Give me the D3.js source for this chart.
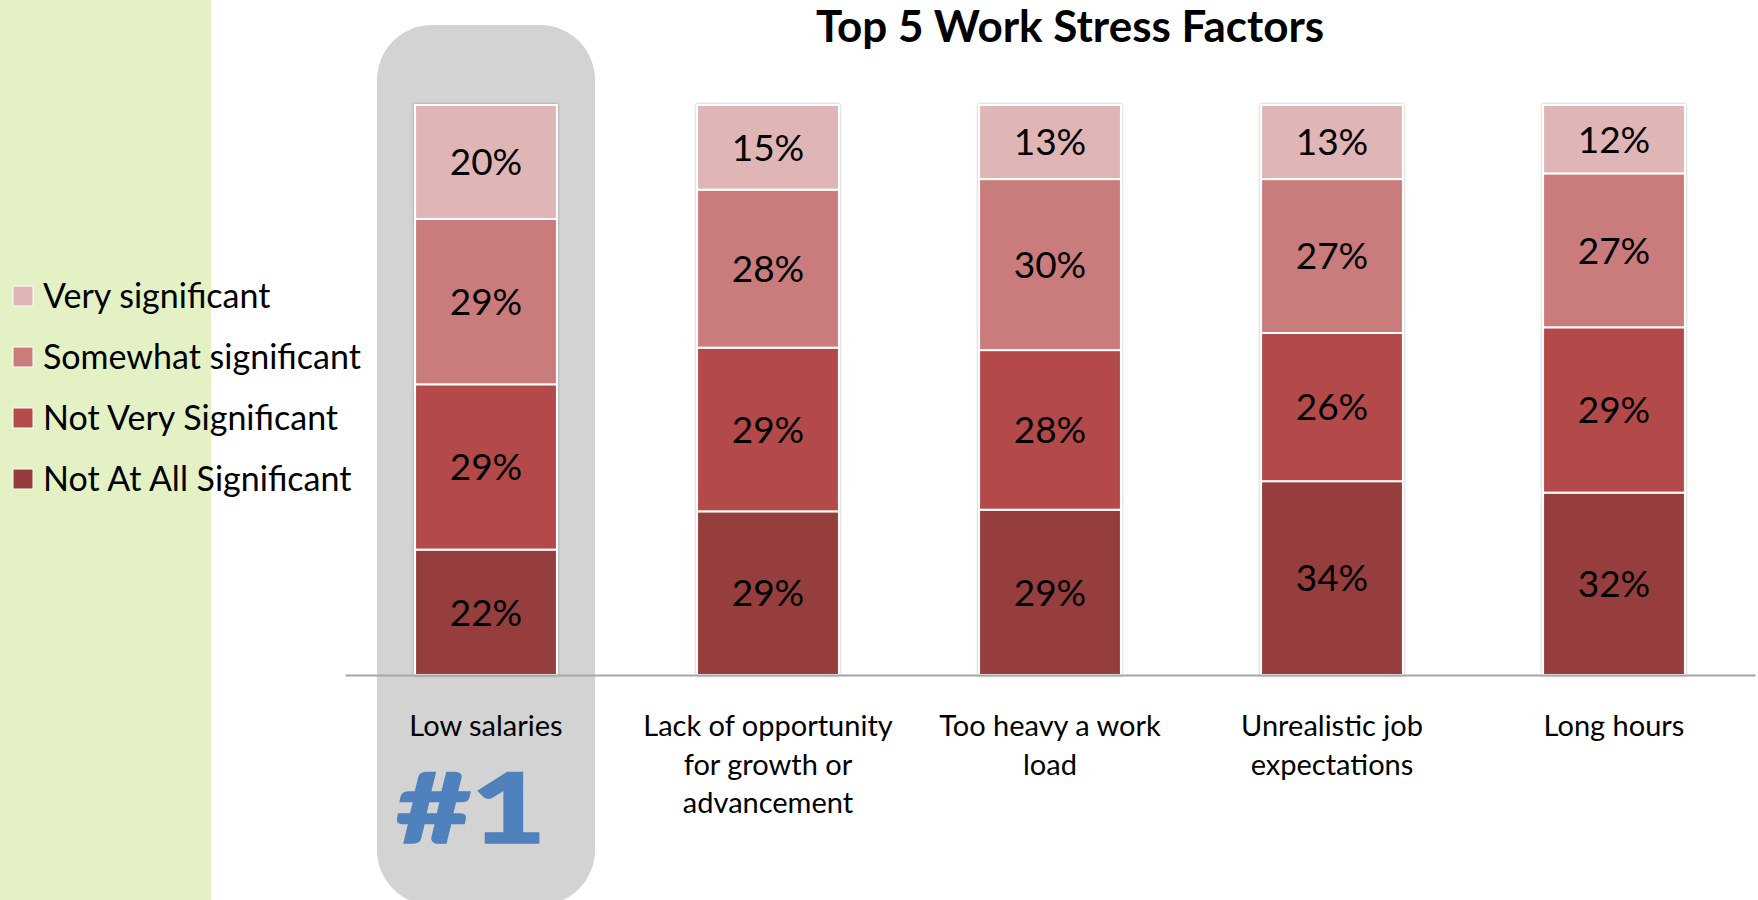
<!DOCTYPE html>
<html>
<head>
<meta charset="utf-8">
<script src="https://cdn.jsdelivr.net/npm/d3@7"></script>
<style>
  html, body { margin: 0; padding: 0; background: #ffffff; }
  svg { display: block; }
  text { font-family: Lato, "Open Sans", sans-serif; }
</style>
</head>
<body>
<svg id="chart" width="1758" height="900"></svg>
<script>
// Survey categories (x axis) and their wrapped tick labels
const categories = ["Low salaries", "Lack of opportunity for growth or advancement", "Too heavy a work load", "Unrealistic job expectations", "Long hours"];
const tickLines = [
  ["Low salaries"],
  ["Lack of opportunity", "for growth or", "advancement"],
  ["Too heavy a work", "load"],
  ["Unrealistic job", "expectations"],
  ["Long hours"]
];

// Stack order, bottom to top
const seriesNames = ["Not At All Significant", "Not Very Significant", "Somewhat significant", "Very significant"];
const notAtAll   = [22, 29, 29, 34, 32];
const notVery    = [29, 29, 28, 26, 29];
const somewhat   = [29, 28, 30, 27, 27];
const very       = [20, 15, 13, 13, 12];
const seriesColors = ["#963c3c", "#b44a49", "#ca7c7c", "#e0b5b5"];

const title = "Top 5 Work Stress Factors";
const rankLabel = "#1";

const svg = d3.select("#chart");
const W = 1758, H = 900;

// Side panel and highlight behind the top-ranked category
svg.append("rect").attr("x", 0).attr("y", 0).attr("width", 211).attr("height", H).attr("fill", "#e3f1c5");

const seriesValues = [notAtAll, notVery, somewhat, very];
const rows = categories.map((c, i) => {
  const r = { category: c };
  seriesNames.forEach((s, k) => r[s] = seriesValues[k][i]);
  return r;
});

const stack = d3.stack().keys(seriesNames).offset(d3.stackOffsetExpand);
const stacked = stack(rows);

const x = d3.scaleBand().domain(categories).range([345, 1755]).paddingInner(0.497).paddingOuter(0.2485);
const y = d3.scaleLinear().domain([0, 1]).range([675, 105]);

const highlightCat = categories[0];
const hx = x(highlightCat) + x.bandwidth() / 2;
svg.append("rect")
  .attr("x", hx - 109).attr("y", 25)
  .attr("width", 218).attr("height", 880)
  .attr("rx", 55).attr("ry", 55)
  .attr("fill", "#d3d3d3");

// Soft edge shadow around the columns
const defs = svg.append("defs");
const f = defs.append("filter").attr("id", "edge").attr("x", "-10%").attr("y", "-5%").attr("width", "120%").attr("height", "110%");
f.append("feDropShadow").attr("dx", 0).attr("dy", 0).attr("stdDeviation", 1.6)
  .attr("flood-color", "#000").attr("flood-opacity", 0.28);

// Title
svg.append("text")
  .attr("x", 1070).attr("y", 42)
  .attr("text-anchor", "middle")
  .attr("font-weight", 700)
  .attr("font-size", 44)
  .attr("fill", "#000")
  .text(title);

// Columns
const barsG = svg.append("g");
categories.forEach((c, i) => {
  const g = barsG.append("g").attr("filter", "url(#edge)");
  stacked.forEach((layer, k) => {
    const d = layer[i];
    g.append("rect")
      .attr("x", x(c))
      .attr("y", y(d[1]))
      .attr("width", x.bandwidth())
      .attr("height", y(d[0]) - y(d[1]))
      .attr("fill", seriesColors[k])
      .attr("stroke", "#ffffff")
      .attr("stroke-width", 2);
  });
});

// Value labels
const labelsG = svg.append("g");
stacked.forEach((layer, k) => {
  layer.forEach((d, i) => {
    labelsG.append("text")
      .attr("x", x(categories[i]) + x.bandwidth() / 2)
      .attr("y", (y(d[0]) + y(d[1])) / 2)
      .attr("dy", "0.36em")
      .attr("text-anchor", "middle")
      .attr("font-size", 37)
      .attr("fill", "#000")
      .text(seriesValues[k][i] + "%");
  });
});

// Category axis
const xAxis = d3.axisBottom(x).tickSize(0).tickFormat("");
const axG = svg.append("g").attr("transform", "translate(0,675)").call(xAxis);
axG.select(".domain").attr("stroke", "#a6a6a6").attr("stroke-width", 2);

const tickG = svg.append("g");
categories.forEach((c, i) => {
  const t = tickG.append("text")
    .attr("x", x(c) + x.bandwidth() / 2)
    .attr("y", 736)
    .attr("text-anchor", "middle")
    .attr("font-size", 29)
    .attr("fill", "#000");
  tickLines[i].forEach((line, j) => {
    t.append("tspan").attr("x", x(c) + x.bandwidth() / 2).attr("dy", j === 0 ? 0 : 38.5).text(line);
  });
});

// Rank marker under the highlighted category, drawn wide and heavy
svg.append("g")
  .attr("transform", `translate(${hx - 15},843) scale(1.32,1)`)
  .append("text")
  .attr("x", 0).attr("y", 0)
  .attr("text-anchor", "middle")
  .attr("font-weight", 900)
  .attr("font-size", 98)
  .attr("fill", "#4f81bd")
  .attr("stroke", "#4f81bd")
  .attr("stroke-width", 1.5)
  .text(rankLabel);

// Legend (top to bottom: lightest to darkest)
const legendOrder = seriesNames.slice().reverse();
const legendColors = seriesColors.slice().reverse();
const lg = svg.append("g");
legendOrder.forEach((s, i) => {
  const cy = 296 + i * 61;
  lg.append("rect").attr("x", 13).attr("y", cy - 10).attr("width", 20).attr("height", 20)
    .attr("fill", legendColors[i]).attr("stroke", "#ffffff").attr("stroke-width", 1);
  lg.append("text").attr("x", 43).attr("y", cy).attr("dy", "0.36em")
    .attr("font-size", 34).attr("fill", "#000").text(s);
});
</script>
</body>
</html>
